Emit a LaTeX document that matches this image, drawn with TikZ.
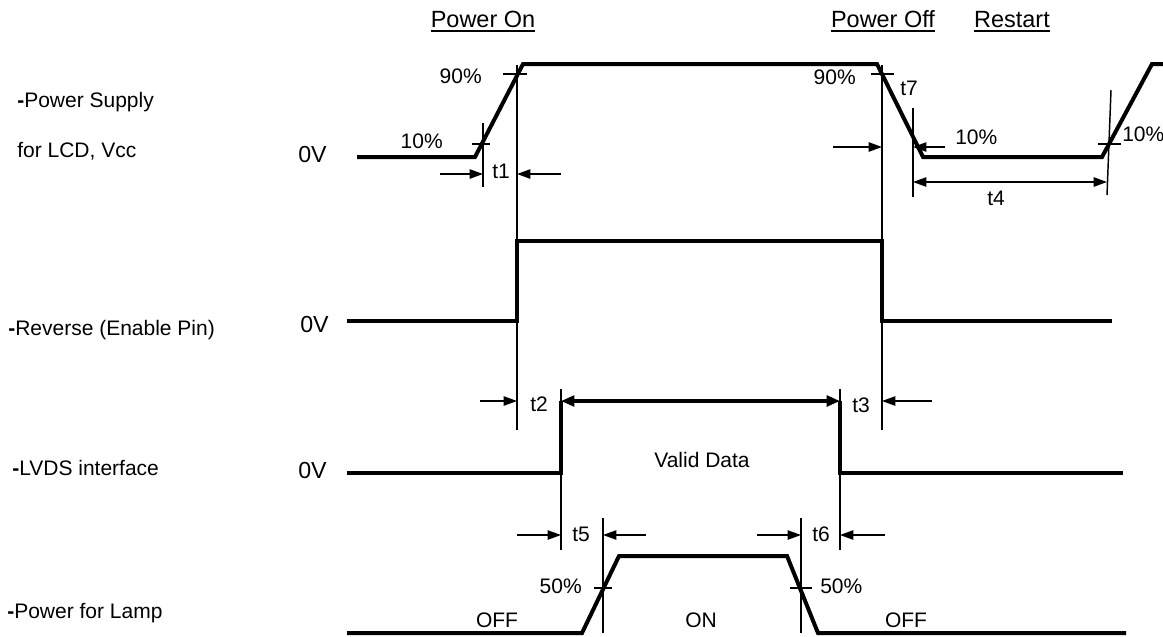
\documentclass[tikz,border=0pt]{standalone}
\usepackage{fontspec}
\setmainfont{Liberation Sans}
\usetikzlibrary{arrows.meta}
\begin{document}
\begin{tikzpicture}[x=0.75pt,y=-0.75pt,
  sig/.style={line width=3pt,line cap=butt},
  thinl/.style={line width=1.1pt},
  arr/.style={line width=1.1pt,-{Triangle[length=10pt,width=7pt]}},
  lbl/.style={inner sep=0pt,font=\fontsize{15.75}{18}\selectfont},
  zlbl/.style={inner sep=0pt,font=\fontsize{17.4}{20}\selectfont},
  toplbl/.style={inner sep=0pt,font=\fontsize{17.6}{20}\selectfont},
  ul/.style={line width=1.4pt}]
\useasboundingbox (0,0) rectangle (1163,636);
% ---------- top labels ----------
\node[toplbl,anchor=base] (pon) at (483,27) {Power On};
\node[toplbl,anchor=base] (poff) at (883,27) {Power Off};
\node[toplbl,anchor=base] (rst) at (1012,27) {Restart};
\foreach \n in {pon,poff,rst}{
  \draw[ul] ([yshift=-3.2pt]\n.base west) -- ([yshift=-3.2pt]\n.base east);}
% ---------- left labels ----------
\node[lbl,anchor=base west] (lps1) at (17,107) {\textbf{-}Power Supply};
\node[lbl,anchor=base west] (lps2) at (17,157) {for LCD, Vcc};
\node[lbl,anchor=base west] (lrev) at (8,335) {\textbf{-}Reverse (Enable Pin)};
\node[lbl,anchor=base west] (llvds) at (12,475) {\textbf{-}LVDS interface};
\node[lbl,anchor=base west] (llamp) at (7,618) {\textbf{-}Power for Lamp};
\node[zlbl,anchor=base west] (z1) at (298,162) {0V};
\node[zlbl,anchor=base west] (z2) at (300,332) {0V};
\node[zlbl,anchor=base west] (z3) at (298,478) {0V};
% ---------- Power supply waveform ----------
\draw[sig] (357,157) -- (475,157) -- (523,64) -- (877,64) -- (923,157) -- (1102,157) -- (1152,64) -- (1163,64);
% power-on markers
\draw[thinl] (517,65) -- (517,430);
\draw[thinl] (483,123) -- (483,187);
\draw[thinl] (503,74) -- (527,74);
\draw[thinl] (472,144) -- (490,144);
\draw[arr] (440,174) -- (483,174);
\draw[arr] (561,174) -- (517,174);
\node[lbl,anchor=base east] (p90a) at (482,83) {90\%};
\node[lbl,anchor=base east] (p10a) at (443,148) {10\%};
\node[lbl,anchor=base west] (t1) at (492,178) {t1};
% power-off markers
\draw[thinl] (882,65) -- (882,430);
\draw[thinl] (871,74) -- (894,74);
\draw[thinl] (913,108) -- (913,197);
\draw[arr] (833,147) -- (882,147);
\draw[arr] (945,147) -- (913,147);
\draw[arr,{Triangle[length=10pt,width=7pt]}-{Triangle[length=10pt,width=7pt]}] (913,182) -- (1107,182);
\draw[thinl] (1111,90) -- (1107,195);
\draw[thinl] (1098,144) -- (1121,144);
\node[lbl,anchor=base east] (p90b) at (856,84) {90\%};
\node[lbl,anchor=base west] (t7) at (900,95) {t7};
\node[lbl,anchor=base west] (p10b) at (955,144) {10\%};
\node[lbl,anchor=base] (t4) at (996,205) {t4};
\node[lbl,anchor=base west] (p10c) at (1122,141) {10\%};
% ---------- Reverse ----------
\draw[sig] (347,321) -- (517,321) -- (517,241) -- (882,241) -- (882,321) -- (1112,321);
% ---------- LVDS ----------
\draw[sig] (347,473) -- (561,473) -- (561,401);
\draw[sig] (840,401) -- (840,473) -- (1123,473);
\draw[line width=3pt,{Triangle[length=10pt,width=8pt]}-{Triangle[length=10pt,width=8pt]}] (561,401) -- (840,401);
\draw[thinl] (561,389) -- (561,401);
\draw[thinl] (840,389) -- (840,401);
\draw[arr] (480,401) -- (517,401);
\draw[arr] (932,401) -- (882,401);
\node[lbl,anchor=base west] (t2) at (530,411) {t2};
\node[lbl,anchor=base west] (t3) at (852,412) {t3};
\node[lbl,anchor=base] (vd) at (702,467) {Valid Data};
% ---------- Lamp ----------
\draw[sig] (347,633) -- (582,633) -- (619,556) -- (787,556) -- (818,633) -- (1126,633);
\draw[thinl] (561,473) -- (561,550);
\draw[thinl] (840,473) -- (840,550);
\draw[thinl] (603,518) -- (603,633);
\draw[thinl] (801,518) -- (801,633);
\draw[thinl] (594,588) -- (612,588);
\draw[thinl] (790,588) -- (812,588);
\draw[arr] (517,535) -- (561,535);
\draw[arr] (646,535) -- (603,535);
\draw[arr] (757,535) -- (801,535);
\draw[arr] (885,535) -- (840,535);
\node[lbl,anchor=base west] (t5) at (572,541) {t5};
\node[lbl,anchor=base west] (t6) at (812,541) {t6};
\node[lbl,anchor=base east] (p50a) at (582,593) {50\%};
\node[lbl,anchor=base west] (p50b) at (820,593) {50\%};
\node[lbl,anchor=base] (off1) at (497,627) {OFF};
\node[lbl,anchor=base] (on) at (701,627) {ON};
\node[lbl,anchor=base] (off2) at (906,627) {OFF};
\end{tikzpicture}
\end{document}
